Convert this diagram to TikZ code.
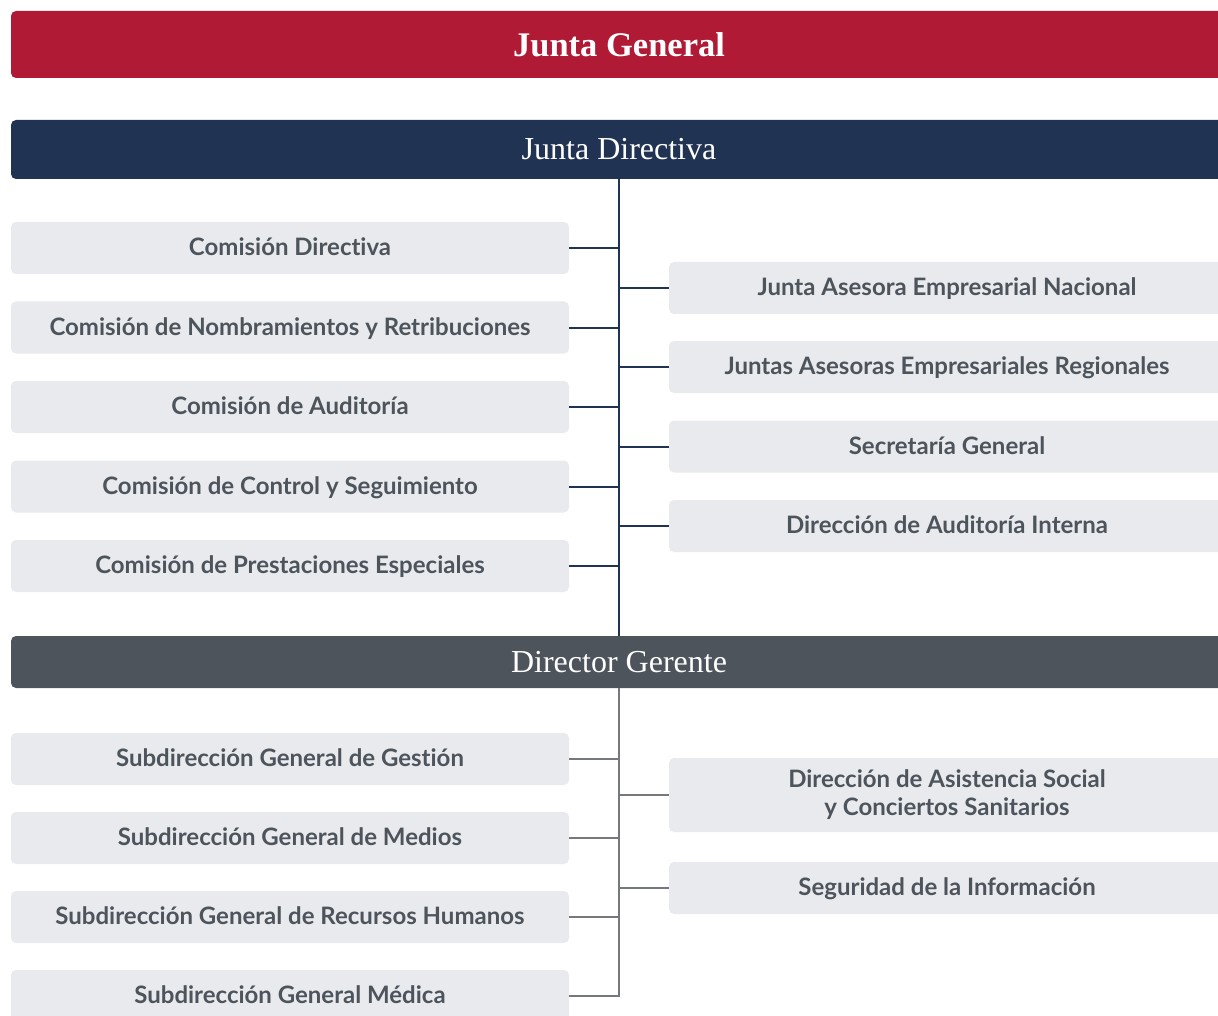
\documentclass[tikz,border=0pt]{standalone}
\usepackage{fontspec}
\setmainfont{Liberation Serif}
\setsansfont{Lato}[Ligatures=NoCommon]
\definecolor{jgred}{HTML}{B01A35}
\definecolor{jdnavy}{HTML}{213352}
\definecolor{dggray}{HTML}{4D545C}
\definecolor{boxfill}{HTML}{E8EAED}
\definecolor{boxtext}{HTML}{4D545C}
\definecolor{linegray}{HTML}{75797E}
\begin{document}
\begin{tikzpicture}[x=1pt,y=-1pt,
  bar/.style={rounded corners=5pt,minimum width=1216pt,text=white,inner sep=0pt,font=\fontsize{32}{35}\selectfont},
  unit/.style={fill=boxfill,rounded corners=5pt,minimum height=52pt,inner sep=0pt,text=boxtext,align=center,font=\sffamily\bfseries\fontsize{24}{28}\selectfont},
  lunit/.style={unit,minimum width=558pt,text height=18pt,text depth=3pt},
  runit/.style={unit,minimum width=556pt},
  navyline/.style={draw=jdnavy,line width=2pt},
  grayline/.style={draw=linegray,line width=2pt}]
\useasboundingbox (0,0) rectangle (1218,1016);
\clip (0,0) rectangle (1218,1016);
% cabecera
\node[bar,fill=jgred,minimum height=67pt,font=\bfseries\fontsize{34.5}{38}\selectfont] (jg) at (619,44.5){Junta General};
\node[bar,fill=jdnavy,minimum height=59pt] (jd) at (619,149.5){Junta Directiva};
\node[bar,fill=dggray,minimum height=52pt] (dg) at (619,662){Director Gerente};
% comisiones y juntas
\node[lunit] (cdir) at (290,248){Comisión Directiva};
\node[lunit] (cnom) at (290,327.5){Comisión de Nombramientos y Retribuciones};
\node[lunit] (caud) at (290,407){Comisión de Auditoría};
\node[lunit] (ccon) at (290,486.5){Comisión de Control y Seguimiento};
\node[lunit] (cpre) at (290,566){Comisión de Prestaciones Especiales};
\node[runit,text height=18pt,text depth=3pt] (jaen) at (947,288){Junta Asesora Empresarial Nacional};
\node[runit,text height=18pt,text depth=3pt] (jaer) at (947,367){Juntas Asesoras Empresariales Regionales};
\node[runit,text height=18pt,text depth=3pt] (sgen) at (947,446.5){Secretaría General};
\node[runit,text height=18pt,text depth=3pt] (dain) at (947,526){Dirección de Auditoría Interna};
% subdirecciones
\node[lunit] (sges) at (290,759){Subdirección General de Gestión};
\node[lunit] (smed) at (290,838){Subdirección General de Medios};
\node[lunit] (srhh) at (290,917){Subdirección General de Recursos Humanos};
\node[lunit] (smdc) at (290,996){Subdirección General Médica};
\node[runit,minimum height=74pt] (dass) at (947,795){Dirección de Asistencia Social\\y Conciertos Sanitarios};
\node[runit,text height=18pt,text depth=3pt] (sinf) at (947,888){Seguridad de la Información};
% lineas
\draw[navyline] (jd.south)--(dg.north);
\foreach \n in {cdir,cnom,caud,ccon,cpre}{\draw[navyline] (\n.east)--(\n.east -| jd.south);}
\foreach \n in {jaen,jaer,sgen,dain}{\draw[navyline] (\n.west)--(\n.west -| jd.south);}
\draw[grayline] (dg.south)--(smdc.east -| dg.south)--(smdc.east);
\foreach \n in {sges,smed,srhh}{\draw[grayline] (\n.east)--(\n.east -| dg.south);}
\foreach \n in {dass,sinf}{\draw[grayline] (\n.west)--(\n.west -| dg.south);}
\end{tikzpicture}
\end{document}
